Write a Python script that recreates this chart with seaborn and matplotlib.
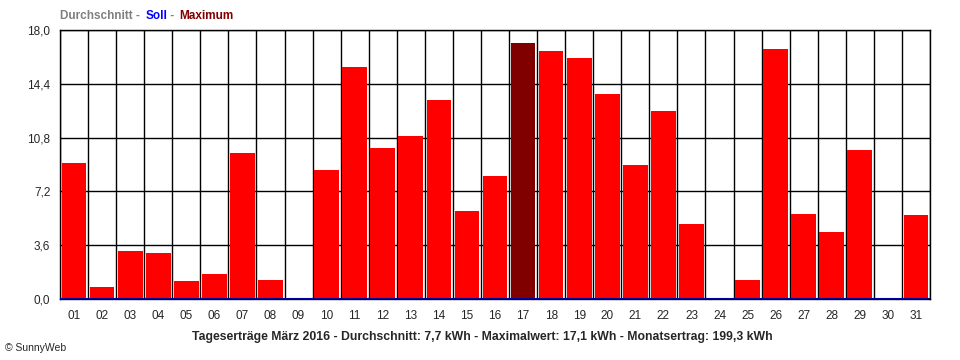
import numpy as np
import pandas as pd
import matplotlib
matplotlib.use("Agg")
import matplotlib.pyplot as plt
import seaborn as sns

# Tageserträge März 2016 (kWh)
days = ["01", "02", "03", "04", "05", "06", "07", "08", "09", "10",
        "11", "12", "13", "14", "15", "16", "17", "18", "19", "20",
        "21", "22", "23", "24", "25", "26", "27", "28", "29", "30", "31"]
yields = [9.1, 0.8, 3.2, 3.1, 1.2, 1.7, 9.8, 1.3, 0.0, 8.6,
          15.5, 10.1, 10.9, 13.3, 5.9, 8.2, 17.1, 16.6, 16.1, 13.7,
          9.0, 12.6, 5.0, 0.0, 1.3, 16.7, 5.7, 4.5, 10.0, 0.0, 5.6]
soll = 0.0
y_ticks = [0.0, 3.6, 7.2, 10.8, 14.4, 18.0]
caption = ("Tageserträge März 2016 - Durchschnitt: 7,7 kWh - "
           "Maximalwert: 17,1 kWh - Monatsertrag: 199,3 kWh")

sns.set_style("white")
plt.rcParams["font.family"] = ["Liberation Sans", "DejaVu Sans"]

df = pd.DataFrame({"day": days, "kwh": yields})
max_day = days[int(np.argmax(yields))]
colors = {d: ("#800000" if d == max_day else "#ff0000") for d in days}

fig = plt.figure(figsize=(9.6, 3.6), dpi=100)
ax = fig.add_axes([60 / 960, 61 / 360, 870 / 960, 269 / 360])

sns.barplot(data=df, x="day", y="kwh", hue="day", palette=colors,
            legend=False, width=0.88, saturation=1, linewidth=0, ax=ax)
ax.axhline(soll, color="#0000a0", lw=1.5, zorder=5)

ax.set_xlim(-0.5, len(days) - 0.5)
ax.set_ylim(0, 18.0)
ax.set_yticks(y_ticks)
ax.set_yticklabels([f"{v:.1f}".replace(".", ",") for v in y_ticks], fontsize=8.5)
ax.set_xticks(range(len(days)))
ax.set_xticklabels(days, fontsize=8.5)
ax.set_xticks(np.arange(-0.5, len(days)), minor=True)
ax.tick_params(axis="x", which="major", length=0, pad=8)
ax.tick_params(axis="x", which="minor", length=5, width=1, color="black", direction="out")
ax.tick_params(axis="y", length=5, width=1, color="black", direction="out", pad=2)
ax.set_axisbelow(True)
ax.grid(axis="y", which="major", color="black", lw=1)
ax.grid(axis="x", which="minor", color="black", lw=1)
for s in ax.spines.values():
    s.set_color("black")
    s.set_linewidth(1)
ax.set_xlabel("")
ax.set_ylabel("")

# colored header
fig.text(60 / 960, 1 - 16 / 360, "Durchschnitt - ", color="#808080",
         fontsize=8.5, fontweight="bold", va="center")
fig.text(146 / 960, 1 - 16 / 360, "Soll", color="#0000ff",
         fontsize=8.5, fontweight="bold", va="center")
fig.text(167 / 960, 1 - 16 / 360, " - ", color="#808080",
         fontsize=8.5, fontweight="bold", va="center")
fig.text(179 / 960, 1 - 16 / 360, "Maximum", color="#800000",
         fontsize=8.5, fontweight="bold", va="center")

fig.text(482 / 960, 1 - 337 / 360, caption, ha="center", va="center",
         fontsize=8.8, fontweight="bold")
fig.text(5 / 960, 1 - 348 / 360, "© SunnyWeb", ha="left", va="center", fontsize=7.5)

fig.savefig("out.png", dpi=100)
